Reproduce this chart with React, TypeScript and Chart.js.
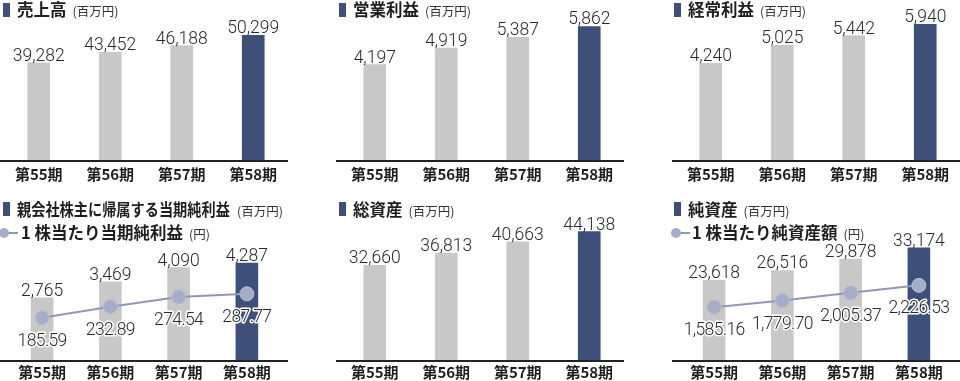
import React, { useEffect, useRef } from "react";
import { Chart, registerables } from "chart.js";
Chart.register(...registerables);

// ---------- data ----------
const periods = ["第55期", "第56期", "第57期", "第58期"];
const sales = [39282, 43452, 46188, 50299];
const operatingIncome = [4197, 4919, 5387, 5862];
const ordinaryIncome = [4240, 5025, 5442, 5940];
const netIncome = [2765, 3469, 4090, 4287];
const epsValues = [185.59, 232.89, 274.54, 287.77];
const totalAssets = [32660, 36813, 40663, 44138];
const netAssets = [23618, 26516, 29878, 33174];
const bpsValues = [1585.16, 1779.7, 2005.37, 2226.53];

// ---------- styles ----------
const NAVY = "#3e5079";
const GRAY = "#c8c8c8";
const LINE = "#8f98b7";
const POINT = "#a6adc8";
const TEXT = "#2a2a2a";
const JP = '"Noto Sans CJK JP", "Noto Sans", sans-serif';
const NUM = 'Roboto, "Noto Sans", sans-serif';

const fmtInt = (v: number) => v.toLocaleString("en-US");
const fmtDec = (v: number) =>
  v.toLocaleString("en-US", { minimumFractionDigits: 2, maximumFractionDigits: 2 });

const valueLabels = {
  id: "valueLabels",
  afterDatasetsDraw(chart: any) {
    const ctx = chart.ctx;
    const area = chart.chartArea;
    ctx.save();
    // baseline axis
    ctx.strokeStyle = "#222";
    ctx.lineWidth = 2;
    ctx.beginPath();
    ctx.moveTo(0, area.bottom);
    ctx.lineTo(288, area.bottom);
    ctx.stroke();

    ctx.textAlign = "center";
    ctx.textBaseline = "alphabetic";
    ctx.font = `300 17.5px ${NUM}`;
    ctx.fillStyle = TEXT;
    const barData = chart.data.datasets[0].data as number[];
    chart.getDatasetMeta(0).data.forEach((el: any, i: number) => {
      ctx.fillText(fmtInt(barData[i]), el.x, el.y - 2);
    });
    if (chart.data.datasets.length > 1) {
      const lineData = chart.data.datasets[1].data as number[];
      try {
        (ctx as any).letterSpacing = "-0.6px";
      } catch (e) {}
      chart.getDatasetMeta(1).data.forEach((el: any, i: number) => {
        const t = fmtDec(lineData[i]);
        ctx.lineWidth = 3;
        ctx.strokeStyle = "#ffffff";
        ctx.lineJoin = "round";
        ctx.strokeText(t, el.x, el.y + 28);
        ctx.fillText(t, el.x, el.y + 28);
      });
    }
    ctx.restore();
  },
};

type PanelProps = {
  bars: number[];
  barMax: number;
  line?: number[];
  lineMax?: number;
  left: number;
  top: number;
  height: number;
  axisHeight: number;
  padTop: number;
  tickPad: number;
};

function Panel({
  bars,
  barMax,
  line,
  lineMax,
  left,
  top,
  height,
  axisHeight,
  padTop,
  tickPad,
}: PanelProps) {
  const ref = useRef<HTMLCanvasElement>(null);
  useEffect(() => {
    const datasets: any[] = [
      {
        type: "bar",
        data: bars,
        backgroundColor: bars.map((_, i) => (i === bars.length - 1 ? NAVY : GRAY)),
        borderWidth: 0,
        barThickness: 22,
        yAxisID: "y",
        order: 2,
      },
    ];
    if (line) {
      datasets.push({
        type: "line",
        data: line,
        yAxisID: "y2",
        borderColor: LINE,
        borderWidth: 2,
        pointRadius: 7,
        pointBackgroundColor: POINT,
        pointBorderColor: "#b8bed5",
        pointBorderWidth: 1,
        tension: 0,
        order: 1,
      });
    }
    const chart = new Chart(ref.current as HTMLCanvasElement, {
      type: "bar",
      data: { labels: periods, datasets },
      options: {
        animation: false,
        responsive: false,
        maintainAspectRatio: false,
        devicePixelRatio: 1,
        layout: { padding: { left: 3, right: 0, top: padTop, bottom: 0 } },
        plugins: {
          legend: { display: false },
          tooltip: { enabled: false },
          title: { display: false },
        },
        scales: {
          x: {
            grid: { display: false, drawTicks: false },
            border: { display: false },
            ticks: {
              color: "#1e1e1e",
              font: { family: JP, size: 15, weight: "bold" },
              padding: tickPad,
              maxRotation: 0,
              autoSkip: false,
            },
            afterFit: (s: any) => {
              s.height = axisHeight;
            },
          },
          y: { display: false, min: 0, max: barMax },
          y2: { display: false, min: 0, max: lineMax ?? 1 },
        },
      } as any,
      plugins: [valueLabels],
    } as any);
    return () => chart.destroy();
  }, []);
  return (
    <canvas
      ref={ref}
      width={289}
      height={height}
      style={{ position: "absolute", left, top, width: 289, height }}
    />
  );
}

function Square({ left, top }: { left: number; top: number }) {
  return (
    <div style={{ position: "absolute", left, top, width: 7, height: 14, background: NAVY }} />
  );
}

function LineMark({ left, top }: { left: number; top: number }) {
  return (
    <div style={{ position: "absolute", left, top, width: 20, height: 12 }}>
      <div style={{ position: "absolute", left: 4, top: 5, width: 14, height: 2, background: LINE }} />
      <div
        style={{
          position: "absolute",
          left: -1.5,
          top: 0.5,
          width: 10,
          height: 10,
          borderRadius: 5,
          background: POINT,
        }}
      />
    </div>
  );
}

function Title({
  left,
  top,
  text,
  unit,
  scale = 1,
  width,
}: {
  left: number;
  top: number;
  text: string;
  unit: string;
  scale?: number;
  width?: number;
}) {
  return (
    <div
      style={{
        position: "absolute",
        left,
        top,
        whiteSpace: "nowrap",
        fontFamily: JP,
        color: "#1e1e1e",
        lineHeight: "18px",
      }}
    >
      <span
        style={{
          display: "inline-block",
          fontSize: 16.5,
          fontWeight: 700,
          transform: scale !== 1 ? `scaleX(${scale})` : undefined,
          transformOrigin: "left center",
          width,
        }}
      >
        {text}
      </span>
      <span style={{ fontSize: 12.5, marginLeft: 6, color: "#333" }}>{unit}</span>
    </div>
  );
}

export default function App() {
  const TOP = { top: 0, height: 190, axisHeight: 29, padTop: 21, tickPad: 4 };
  const BOT = { top: 190, height: 191, axisHeight: 20, padTop: 31, tickPad: 2 };
  return (
    <div
      style={{
        position: "absolute",
        left: 0,
        top: 0,
        width: 960,
        height: 381,
        overflow: "hidden",
        background: "#fff",
      }}
    >
      <Panel bars={sales} barMax={56000} left={0} {...TOP} />
      <Panel bars={operatingIncome} barMax={6100} left={336} {...TOP} />
      <Panel bars={ordinaryIncome} barMax={6080} left={672} {...TOP} />
      <Panel bars={netIncome} barMax={6130} line={epsValues} lineMax={600} left={0} {...BOT} />
      <Panel bars={totalAssets} barMax={47750} left={336} {...BOT} />
      <Panel bars={netAssets} barMax={41000} line={bpsValues} lineMax={4120} left={672} {...BOT} />

      <Square left={3} top={3} />
      <Title left={17} top={0} text="売上高" unit="(百万円)" />
      <Square left={339} top={3} />
      <Title left={353} top={0} text="営業利益" unit="(百万円)" />
      <Square left={674} top={3} />
      <Title left={688} top={0} text="経常利益" unit="(百万円)" />

      <Square left={3} top={202} />
      <Title
        left={17}
        top={200}
        text="親会社株主に帰属する当期純利益"
        unit="(百万円)"
        scale={0.86}
        width={214}
      />
      <LineMark left={0} top={227} />
      <Title left={21} top={223} text="1 株当たり当期純利益" unit="(円)" />

      <Square left={339} top={202} />
      <Title left={353} top={200} text="総資産" unit="(百万円)" />

      <Square left={674} top={202} />
      <Title left={688} top={200} text="純資産" unit="(百万円)" />
      <LineMark left={672} top={227} />
      <Title left={692} top={223} text="1 株当たり純資産額" unit="(円)" />
    </div>
  );
}
